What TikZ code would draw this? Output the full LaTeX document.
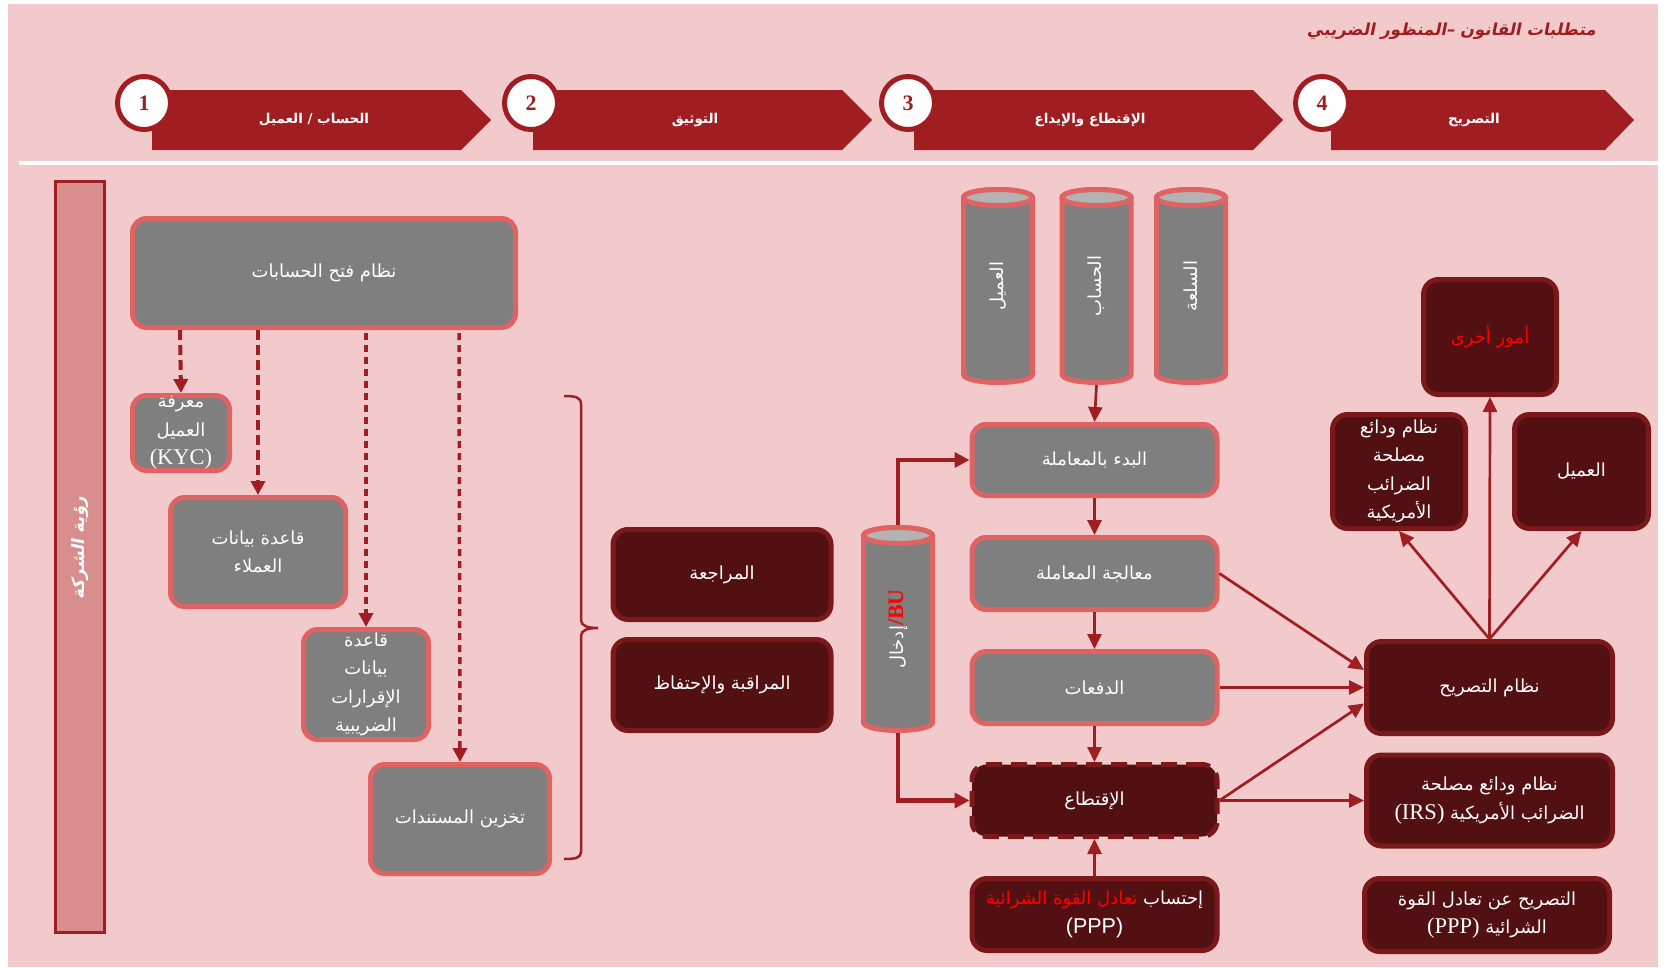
\documentclass[tikz,border=0pt]{standalone}
\usepackage{fontspec}
\usetikzlibrary{arrows.meta}
\TeXXeTstate=1
\newfontfamily\arf[Script=Arabic]{DejaVu Sans}
\newfontfamily\arsl[Script=Arabic,FakeSlant=0.2]{DejaVu Sans}
\newfontfamily\lat{Liberation Serif}
\newfontfamily\latsans{Liberation Sans}
\newcommand\AR[1]{\beginR#1\endR}

\definecolor{pinkbg}{HTML}{F3CACB}
\definecolor{brand}{HTML}{A01E22}
\definecolor{grayfill}{HTML}{7F7F7F}
\definecolor{grayedge}{HTML}{E06363}
\definecolor{darkfill}{HTML}{531012}
\definecolor{darkedge}{HTML}{7A181A}
\definecolor{capgray}{HTML}{B3B3B3}
\definecolor{barfill}{HTML}{D98E8E}

% vertical cylinder: #1 centre x, #2 top, #3 bottom of the outline
\newcommand\drawcyl[3]{%
  \filldraw[fill=grayfill, draw=grayedge, line width=5pt]
    (#1-34.5,-#2-8) -- (#1-34.5,-#3+8)
    arc[start angle=180, end angle=360, x radius=34.5, y radius=8]
    -- (#1+34.5,-#2-8)
    arc[start angle=0, end angle=180, x radius=34.5, y radius=8] -- cycle;
  \filldraw[fill=capgray, draw=grayedge, line width=5pt]
    (#1,-#2-8) ellipse[x radius=34.5, y radius=8];
}

\tikzset{
  boxtext/.style={font=\arf\fontsize{18}{28.5}\selectfont, text=white, align=center, inner sep=0pt},
  graybox/.style={boxtext, draw=grayedge, fill=grayfill, line width=5pt, rounded corners=14pt},
  darkbox/.style={boxtext, draw=darkedge, fill=darkfill, line width=5pt, rounded corners=15pt},
  cyllabel/.style={font=\arf\fontsize{18}{20}\selectfont, text=white, inner sep=0pt},
  flow/.style={draw=brand, line width=2.7pt, -{Triangle[length=15pt,width=14pt]}},
  thickflow/.style={draw=brand, line width=4.5pt, -{Triangle[length=15pt,width=15pt]}},
  dashflow/.style={draw=brand, line width=4pt, dash pattern=on 10pt off 5pt, -{Triangle[length=14pt,width=14pt]}},
  dotflow/.style={draw=brand, line width=3.5pt, dash pattern=on 7pt off 5pt, -{Triangle[length=14pt,width=14pt]}},
  stepnum/.style={circle, draw=brand, fill=white, line width=5pt, minimum size=53pt, inner sep=0pt,
    font=\lat\bfseries\fontsize{22}{22}\selectfont, text=brand},
  steplabel/.style={font=\arf\bfseries\fontsize{13.5}{15}\selectfont, text=white, inner sep=0pt},
}
\newcommand\latn[1]{{\lat\fontsize{22.5}{22.5}\selectfont #1}}

\begin{document}
\begin{tikzpicture}[x=1pt,y=1pt]
\useasboundingbox (0,0) rectangle (1668,-967);
\fill[white] (0,0) rectangle (1668,-967);
\fill[pinkbg] (8,-4) rectangle (1658,-967);
\draw[white, line width=4.3pt] (19,-163) -- (1658,-163);

% title
\node[anchor=east, font=\arsl\bfseries\fontsize{16.5}{17}\selectfont, text=brand, inner sep=0pt]
  (title) at (1596,-31) {\AR{متطلبات القانون –المنظور الضريبي}};

% step banners
\fill[brand] (152,-90) -- (461,-90) -- (491,-120) -- (461,-150) -- (152,-150) -- cycle;
\fill[brand] (533,-90) -- (842,-90) -- (872,-120) -- (842,-150) -- (533,-150) -- cycle;
\fill[brand] (914,-90) -- (1253,-90) -- (1283,-120) -- (1253,-150) -- (914,-150) -- cycle;
\fill[brand] (1331,-90) -- (1605,-90) -- (1634,-120) -- (1605,-150) -- (1331,-150) -- cycle;
\node[stepnum] (n1) at (144,-103) {1};
\node[stepnum] (n2) at (531,-103) {2};
\node[stepnum] (n3) at (908,-103) {3};
\node[stepnum] (n4) at (1322,-103) {4};
\node[steplabel] (s1) at (314,-120) {\AR{الحساب / العميل}};
\node[steplabel] (s2) at (695,-120) {\AR{التوثيق}};
\node[steplabel] (s3) at (1090,-120) {\AR{الإقتطاع والإيداع}};
\node[steplabel] (s4) at (1474,-120) {\AR{التصريح}};

% side bar
\draw[brand, fill=barfill, line width=3pt] (55.5,-181.5) rectangle (104.5,-932.5);
\node[rotate=90, font=\arsl\bfseries\fontsize{17}{17}\selectfont, text=white, inner sep=0pt]
  (vision) at (80,-548) {\AR{رؤية الشركة}};

% account opening column
\node[graybox, minimum width=383pt, minimum height=109pt] (open) at (324,-273) {\AR{نظام فتح الحسابات}};
\node[graybox, minimum width=97pt, minimum height=75pt] (kyc) at (181,-433)
  {\AR{معرفة}\\\AR{العميل}\\\latn{(KYC)}};
\node[graybox, minimum width=175pt, minimum height=109pt] (cdb) at (258,-552)
  {\AR{قاعدة بيانات}\\\AR{العملاء}};
\node[graybox, minimum width=125pt, minimum height=110pt] (taxdb) at (366,-684.5)
  {\AR{قاعدة}\\\AR{بيانات}\\\AR{الإقرارات}\\\AR{الضريبية}};
\node[graybox, minimum width=179pt, minimum height=109pt] (doc) at (460,-819) {\AR{تخزين المستندات}};

\draw[dashflow] ([xshift=-144pt]open.south) -- (kyc.north);
\draw[dashflow] ([xshift=-66pt]open.south) -- (cdb.north);
\draw[dotflow] ([xshift=42pt,yshift=-3pt]open.south) -- (taxdb.north);
\draw[dotflow] ([xshift=135pt,yshift=-3pt]open.south) -- (doc.north);

% brace
\draw[brand, line width=2.5pt]
  (564,-396) .. controls (575,-396) and (581,-397) .. (581,-404) -- (581,-620)
  .. controls (581,-626) and (588,-628) .. (598,-628)
  .. controls (588,-628) and (581,-630) .. (581,-636) -- (581,-852)
  .. controls (581,-858) and (575,-859) .. (564,-859);

% documentation
\node[darkbox, minimum width=218pt, minimum height=90pt] (audit) at (722,-574.5) {\AR{المراجعة}};
\node[darkbox, minimum width=218pt, minimum height=91pt] (mon) at (722,-685) {\AR{المراقبة والإحتفاظ}};

% cylinders
\drawcyl{998}{189.5}{382.5}
\drawcyl{1096.5}{189.5}{382.5}
\drawcyl{1191}{189.5}{382.5}
\drawcyl{898}{527.5}{730.5}
\node[cyllabel, minimum width=74pt, minimum height=198pt] (cyCust) at (998,-286) {\rotatebox{90}{\AR{العميل}}};
\node[cyllabel, minimum width=74pt, minimum height=198pt] (cyAcct) at (1096.5,-286) {\rotatebox{90}{\AR{الحساب}}};
\node[cyllabel, minimum width=74pt, minimum height=198pt] (cyComm) at (1191,-286) {\rotatebox{90}{\AR{السلعة}}};
\node[cyllabel, minimum width=74pt, minimum height=208pt] (cyBU) at (898,-629)
  {\rotatebox{90}{\AR{إدخال}\textcolor{red}{\lat\bfseries\fontsize{22}{22}\selectfont /BU}}};

% withholding column
\node[graybox, minimum width=245pt, minimum height=71pt] (start) at (1094.5,-460) {\AR{البدء بالمعاملة}};
\node[graybox, minimum width=245pt, minimum height=72pt] (proc) at (1094.5,-573.5) {\AR{معالجة المعاملة}};
\node[graybox, minimum width=245pt, minimum height=72pt] (pay) at (1094.5,-687.5) {\AR{الدفعات}};
\node[darkbox, draw=darkedge, dash pattern=on 16pt off 9pt, minimum width=245pt, minimum height=72pt]
  (ded) at (1094.5,-800.5) {\AR{الإقتطاع}};
\node[darkbox, minimum width=245pt, minimum height=72pt] (pppM) at (1094.5,-914.5)
  {\hbox{\textcolor{red}{\AR{تعادل القوة الشرائية}}\ \AR{إحتساب}}\\{\latsans\fontsize{21.5}{21.5}\selectfont(PPP)}};

\draw[flow] (cyAcct.south) -- (start.north);
\draw[flow] (start.south) -- (proc.north);
\draw[flow] (proc.south) -- (pay.north);
\draw[flow] (pay.south) -- (ded.north);
\draw[flow] (pppM.north) -- (ded.south);
\draw[thickflow] (cyBU.north) |- (start.west);
\draw[thickflow] (cyBU.south) |- (ded.west);

% reporting column
\node[darkbox, minimum width=246pt, minimum height=92pt] (decl) at (1489.5,-687.5) {\AR{نظام التصريح}};
\node[darkbox, minimum width=246pt, minimum height=91pt] (irs) at (1489.5,-800.5)
  {\AR{نظام ودائع مصلحة}\\\AR{الضرائب الأمريكية \latn{\beginL(IRS)\endL}}};
\node[darkbox, minimum width=245pt, minimum height=73pt] (pppR) at (1487,-915)
  {\AR{التصريح عن تعادل القوة}\\\AR{الشرائية \latn{\beginL(PPP)\endL}}};
\node[darkbox, text=red, minimum width=133pt, minimum height=115pt] (other) at (1490,-337) {\AR{أمور أخرى}};
\node[darkbox, minimum width=133pt, minimum height=114pt] (irsL) at (1399,-471.5)
  {\AR{نظام ودائع}\\\AR{مصلحة}\\\AR{الضرائب}\\\AR{الأمريكية}};
\node[darkbox, minimum width=134pt, minimum height=114pt] (custR) at (1581.5,-471.5) {\AR{العميل}};

\draw[flow] (proc.east) -- ([yshift=17.5pt]decl.west);
\draw[flow] (pay.east) -- (decl.west);
\draw[flow] (ded.east) -- ([yshift=-16pt]decl.west);
\draw[flow] (ded.east) -- (irs.west);
\draw[flow] (decl.north) -- (other.south);
\draw[flow] (decl.north) -- (irsL.south);
\draw[flow] (decl.north) -- (custR.south);
\end{tikzpicture}
\end{document}
